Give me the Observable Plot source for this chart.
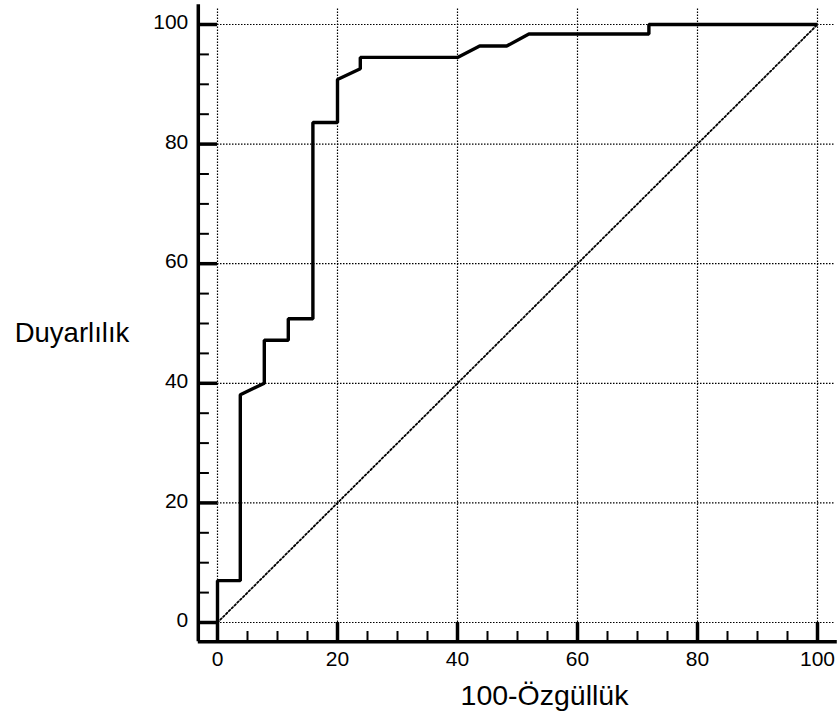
<!DOCTYPE html>
<html>
<head>
<meta charset="utf-8">
<script src="https://cdn.jsdelivr.net/npm/d3@7"></script>
<script src="https://cdn.jsdelivr.net/npm/@observablehq/plot@0.6"></script>
<style>
  html, body { margin: 0; padding: 0; background: #fff; }
  #chart { width: 838px; height: 720px; }
</style>
</head>
<body>
<div id="chart"></div>
<script>
// ROC curve (100-Specificity vs Sensitivity)
const fpr = [0, 0, 3.8, 3.8, 7.8, 7.8, 11.8, 11.8, 15.9, 15.9, 20, 20, 23.8, 23.8, 40, 43.7, 48.2, 51.9, 71.9, 71.9, 100];
const tpr = [0, 7.0, 7.0, 38.1, 40.0, 47.2, 47.2, 50.8, 50.8, 83.6, 83.6, 90.8, 92.6, 94.5, 94.5, 96.4, 96.4, 98.4, 98.4, 100, 100];

// reference diagonal
const diagX = [0, 100];
const diagY = [0, 100];

// tick labels
const xTicks = [0, 20, 40, 60, 80, 100];
const yTicks = [0, 20, 40, 60, 80, 100];
const xMinor = [5, 10, 15, 25, 30, 35, 45, 50, 55, 65, 70, 75, 85, 90, 95];
const yMinor = [5, 10, 15, 25, 30, 35, 45, 50, 55, 65, 70, 75, 85, 90, 95];

const xTitle = "100-Özgüllük";
const yTitle = "Duyarlılık";

const roc = fpr.map((x, i) => ({x, y: tpr[i]}));
const diag = diagX.map((x, i) => ({x, y: diagY[i]}));

// axis frame offsets (in data units, outside the 0–100 domain)
const AX = -3.2;     // axis lines position
const END = 103.3;   // axis lines far end
const GRID_END = 102.8;
const MINOR_X = -1.35;
const MINOR_Y = -1.5;

const dotted = "1.5,1.5";

const chart = Plot.plot({
  width: 838,
  height: 720,
  marginLeft: 217,
  marginRight: 21,
  marginTop: 24,
  marginBottom: 98,
  x: {domain: [0, 100], axis: null},
  y: {domain: [0, 100], axis: null},
  style: {fontFamily: "'Liberation Sans', Arial, sans-serif", background: "#fff", color: "#000", overflow: "visible"},
  marks: [
    // grid
    Plot.ruleX(xTicks, {x: d => d, y1: 0, y2: GRID_END, stroke: "#000", strokeWidth: 1.2, strokeDasharray: dotted}),
    Plot.ruleY(yTicks, {y: d => d, x1: 0, x2: GRID_END, stroke: "#000", strokeWidth: 1.2, strokeDasharray: dotted}),
    // diagonal
    Plot.line(diag, {x: "x", y: "y", stroke: "#000", strokeWidth: 1.8, strokeDasharray: "1.8,2.2"}),
    // ROC curve
    Plot.line(roc, {x: "x", y: "y", stroke: "#000", strokeWidth: 3.4, strokeLinejoin: "miter", strokeLinecap: "butt"}),
    // axis lines
    Plot.ruleX([AX], {x: d => d, y1: AX, y2: END, stroke: "#000", strokeWidth: 3.5}),
    Plot.ruleY([AX], {y: d => d, x1: AX, x2: END, stroke: "#000", strokeWidth: 3.5}),
    // major ticks
    Plot.ruleY(yTicks, {y: d => d, x1: AX, x2: 0, stroke: "#000", strokeWidth: 3.5}),
    Plot.ruleX(xTicks, {x: d => d, y1: AX, y2: 0, stroke: "#000", strokeWidth: 3.5}),
    // minor ticks
    Plot.ruleY(yMinor, {y: d => d, x1: AX, x2: MINOR_X, stroke: "#000", strokeWidth: 2}),
    Plot.ruleX(xMinor, {x: d => d, y1: AX, y2: MINOR_Y, stroke: "#000", strokeWidth: 2}),
    // tick labels
    Plot.text(yTicks, {x: AX, y: d => d, text: d => String(d), textAnchor: "end", dx: -10, dy: -2, fontSize: 21, fill: "#000"}),
    Plot.text(xTicks, {x: d => d, y: AX, text: d => String(d), textAnchor: "middle", dy: 18, fontSize: 21, fill: "#000"}),
    // axis titles
    Plot.text([yTitle], {frameAnchor: "left", text: d => d, textAnchor: "middle", lineAnchor: "bottom", dx: -145.5, dy: 18.7, fontSize: 27.5, fill: "#000"}),
    Plot.text([xTitle], {frameAnchor: "bottom", text: d => d, textAnchor: "middle", lineAnchor: "bottom", dx: 27, dy: 82, fontSize: 28.5, fill: "#000"})
  ]
});

document.getElementById("chart").appendChild(chart);
</script>
</body>
</html>
